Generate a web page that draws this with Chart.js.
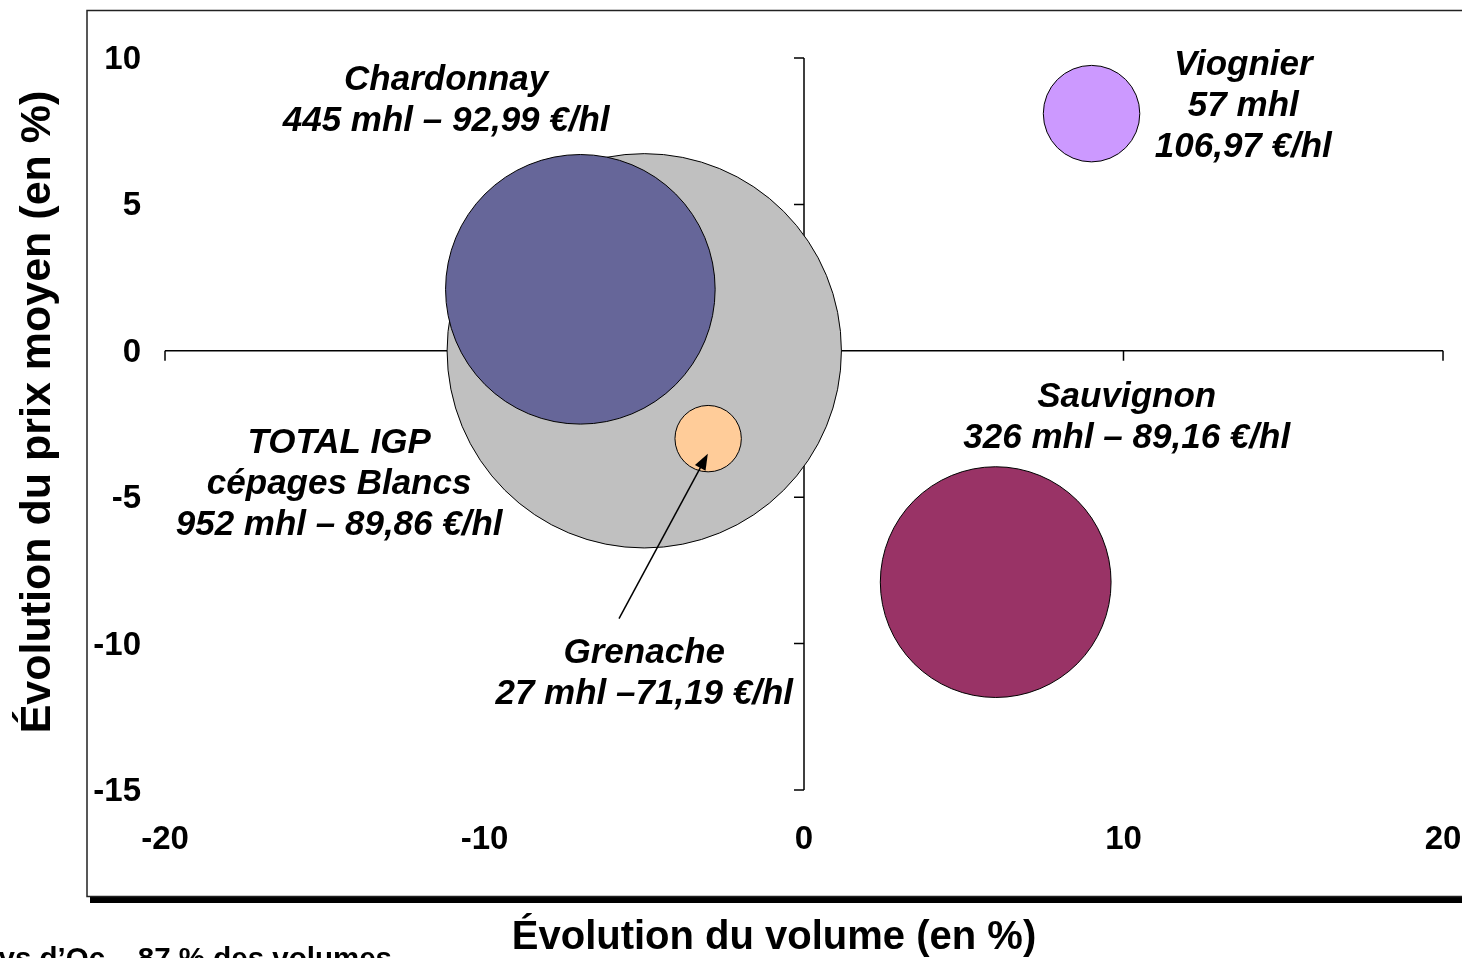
<!DOCTYPE html>
<html>
<head>
<meta charset="utf-8">
<script src="https://cdn.jsdelivr.net/npm/chart.js@4/dist/chart.umd.min.js"></script>
<style>
    html, body { margin: 0; padding: 0; background: #fff; overflow: hidden; }
    canvas { display: block; }
</style>
</head>
<body>
<canvas id="bubbleChart" width="1462" height="958"></canvas>
<script>
// Données : évolution volume / prix moyen des cépages blancs IGP
const categories = ['TOTAL IGP cépages Blancs', 'Chardonnay', 'Grenache', 'Sauvignon', 'Viognier'];
const volumeChange = [-5, -7, -3, 6, 9];          // axe X (en %)
const priceChange = [0, 2.1, -3, -7.9, 8.1];      // axe Y (en %)
const volumes = [952, 445, 27, 326, 57];          // mhl -> taille des bulles
const bubbleColors = ['#C0C0C0', '#666699', '#FFCC99', '#993366', '#CC99FF'];
const labelLines = [
    ['TOTAL IGP', 'cépages Blancs', '952 mhl – 89,86 €/hl'],
    ['Chardonnay', '445 mhl – 92,99 €/hl'],
    ['Grenache', '27 mhl –71,19 €/hl'],
    ['Sauvignon', '326 mhl – 89,16 €/hl'],
    ['Viognier', '57 mhl', '106,97 €/hl']
];
const xTicks = [-20, -10, 0, 10, 20];
const yTicks = [10, 5, 0, -5, -10, -15];

// position des étiquettes (en unités des axes)
const labelAnchors = [
    { x: -14.55, y: -3.04 },
    { x: -11.2, y: 9.36 },
    { x: -5.0, y: -10.21 },
    { x: 10.1, y: -1.47 },
    { x: 13.75, y: 9.87 }
];
const FONT = '"Liberation Sans", Arial, sans-serif';

const framePlugin = {
    id: 'frame',
    beforeDraw(chart) {
        const ctx = chart.ctx;
        ctx.save();
        ctx.fillStyle = '#fff';
        ctx.fillRect(0, 0, chart.width, chart.height);
        // ombre du cadre
        ctx.fillStyle = '#000';
        ctx.fillRect(90, 897, chart.width, 6);
        ctx.strokeStyle = '#222';
        ctx.lineWidth = 1.5;
        ctx.strokeRect(87, 10.5, chart.width, 886);
        ctx.restore();
    },
    beforeDatasetsDraw(chart) {
        const ctx = chart.ctx;
        const xs = chart.scales.x, ys = chart.scales.y;
        const x0 = xs.getPixelForValue(0), y0 = ys.getPixelForValue(0);
        ctx.save();
        ctx.strokeStyle = '#000';
        ctx.lineWidth = 1.5;
        ctx.beginPath();
        ctx.moveTo(xs.getPixelForValue(xTicks[0]), y0);
        ctx.lineTo(xs.getPixelForValue(xTicks[xTicks.length - 1]), y0);
        xTicks.forEach(v => {
            const px = xs.getPixelForValue(v);
            ctx.moveTo(px, y0);
            ctx.lineTo(px, y0 + 10);
        });
        ctx.moveTo(x0, ys.getPixelForValue(yTicks[0]));
        ctx.lineTo(x0, ys.getPixelForValue(yTicks[yTicks.length - 1]));
        yTicks.forEach(v => {
            const py = ys.getPixelForValue(v);
            ctx.moveTo(x0, py);
            ctx.lineTo(x0 - 10, py);
        });
        ctx.stroke();

        // libellés des graduations
        ctx.fillStyle = '#000';
        ctx.font = 'bold 33px ' + FONT;
        ctx.textAlign = 'right';
        ctx.textBaseline = 'middle';
        yTicks.forEach(v => ctx.fillText(String(v), 141, ys.getPixelForValue(v) + 2));
        ctx.textAlign = 'center';
        xTicks.forEach(v => ctx.fillText(String(v), xs.getPixelForValue(v), 840));

        // titres des axes
        ctx.font = 'bold 40px ' + FONT;
        ctx.fillText('Évolution du volume (en %)', 774, 938);
        ctx.save();
        ctx.translate(38, 412);
        ctx.rotate(-Math.PI / 2);
        ctx.font = 'bold 43px ' + FONT;
        ctx.fillText('Évolution du prix moyen (en %)', 0, 0);
        ctx.restore();

        // note de bas de page (coupée)
        ctx.font = 'bold 29.5px ' + FONT;
        ctx.textAlign = 'right';
        ctx.textBaseline = 'alphabetic';
        ctx.fillText('Pays d\u2019Oc – 87 % des volumes', 392, 968);
        ctx.restore();
    },
    afterDatasetsDraw(chart) {
        const ctx = chart.ctx;
        const xs = chart.scales.x, ys = chart.scales.y;
        ctx.save();
        // flèche Grenache
        const tx = xs.getPixelForValue(-5.79), ty = ys.getPixelForValue(-9.15);
        const hx = xs.getPixelForValue(-3.01), hy = ys.getPixelForValue(-3.52);
        const ang = Math.atan2(hy - ty, hx - tx);
        ctx.strokeStyle = '#000';
        ctx.fillStyle = '#000';
        ctx.lineWidth = 1.5;
        ctx.beginPath();
        ctx.moveTo(tx, ty);
        ctx.lineTo(hx - 12 * Math.cos(ang), hy - 12 * Math.sin(ang));
        ctx.stroke();
        ctx.beginPath();
        ctx.moveTo(hx, hy);
        ctx.lineTo(hx - 16 * Math.cos(ang) + 6 * Math.sin(ang), hy - 16 * Math.sin(ang) - 6 * Math.cos(ang));
        ctx.lineTo(hx - 16 * Math.cos(ang) - 6 * Math.sin(ang), hy - 16 * Math.sin(ang) + 6 * Math.cos(ang));
        ctx.closePath();
        ctx.fill();

        // étiquettes des bulles
        ctx.font = 'italic bold 35px ' + FONT;
        ctx.textAlign = 'center';
        ctx.textBaseline = 'middle';
        labelLines.forEach((lines, i) => {
            const cx = xs.getPixelForValue(labelAnchors[i].x);
            const cy = ys.getPixelForValue(labelAnchors[i].y) + 4;
            lines.forEach((t, j) => ctx.fillText(t, cx, cy + j * 41));
        });
        ctx.restore();
    }
};

new Chart(document.getElementById('bubbleChart'), {
    type: 'bubble',
    data: {
        labels: categories,
        datasets: [{
            data: volumeChange.map((v, i) => ({ x: v, y: priceChange[i] })),
            backgroundColor: bubbleColors,
            borderColor: '#000',
            borderWidth: 1,
            radius: ctx => 6.39 * Math.sqrt(volumes[ctx.dataIndex])
        }]
    },
    options: {
        responsive: false,
        animation: false,
        events: [],
        layout: { autoPadding: false, padding: { left: 165, right: 19, top: 58, bottom: 168 } },
        plugins: { legend: { display: false }, tooltip: { enabled: false } },
        scales: {
            x: { display: false, min: -20, max: 20 },
            y: { display: false, min: -15, max: 10 }
        },
        clip: false
    },
    plugins: [framePlugin]
});
</script>
</body>
</html>
